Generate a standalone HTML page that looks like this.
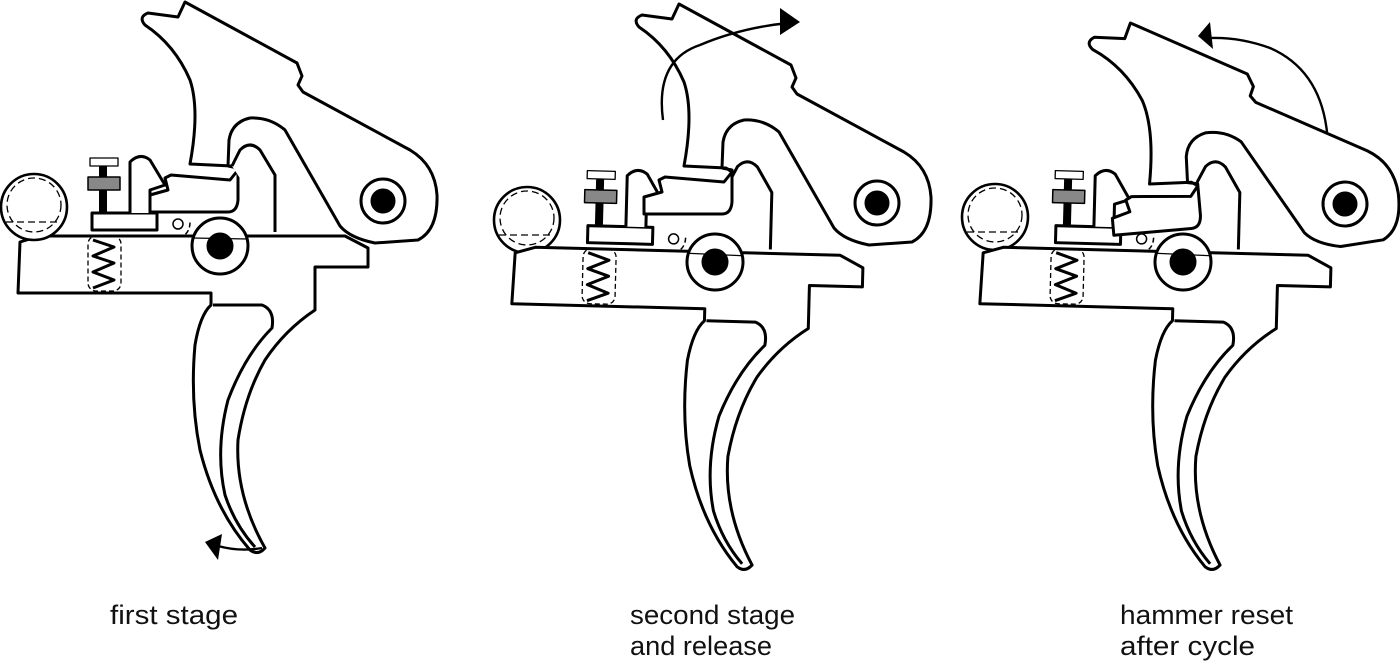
<!DOCTYPE html>
<html><head><meta charset="utf-8"><style>
html,body{margin:0;padding:0;background:#fff;width:1400px;height:664px;overflow:hidden}
svg{display:block}
text{font-family:"Liberation Sans",sans-serif;font-size:27px;fill:#111}
</style></head><body>
<svg width="1400" height="664" viewBox="0 0 1400 664" xmlns="http://www.w3.org/2000/svg">
<defs>
<g id="ham" fill="#fff" stroke="#000" stroke-width="3" stroke-linejoin="round">
  <path d="M148,13 L178,17 L185,2 L297,63 L302,76 L298,85 L303,92 L410,150 Q435,165 437,195 Q438,230 418,240 L375,243 Q350,238 340,226 L285,130 Q270,117 250,118 Q232,122 229,140 L228,166 L238,168 L238,200 Q237,212 228,212 L150,212 L150,195 L168,190 L165,178 L171,175 L230,180 L238,170 L232,166 L190,164 Q200,110 190,80 Q175,45 145,25 Q138,17 148,13 Z"/>
  <circle cx="383" cy="201" r="22"/>
  <circle cx="383" cy="201" r="11" fill="#000"/>
</g>
<g id="trig" fill="#fff" stroke="#000" stroke-width="3" stroke-linejoin="round">
  <path d="M20,242 L40,236 L345,236 L368,248 L368,267 L315,267 L315,310 Q285,330 265,360 Q245,395 238,440 Q235,495 265,548 Q258,556 250,550 Q215,510 200,450 Q190,400 195,345 Q200,315 211,305 L211,293 L18,293 Z"/>
  <path d="M213,305 L262,305 Q275,310 272,328 Q245,355 228,400 Q215,450 225,495 Q235,525 255,547" fill="none"/>
  <path d="M275,232 L275,175 L260,150 Q250,140 240,150 L232,166" fill="#fff"/>
  <circle cx="220" cy="246" r="28"/>
  <circle cx="220" cy="246" r="12" fill="#000"/>
  <line x1="192" y1="238" x2="248" y2="239" stroke-width="1.2"/>
  <rect x="92" y="213" width="65" height="17"/>
  <path d="M130,213 L130,162 Q140,152 150,160 L165,185 L150,190 L150,213" />
  <rect x="88" y="236" width="33" height="55" rx="8" fill="none" stroke-dasharray="5,3" stroke-width="1.3"/>
  <path d="M93,240 L114,247 L93,256 L114,263 L93,272 L114,280 L93,288" fill="none" stroke-width="3"/>
  <rect x="90" y="158" width="28" height="8" stroke-width="1.3"/>
  <rect x="99" y="166" width="8" height="47" fill="#000" stroke="none"/>
  <rect x="88" y="177" width="32" height="13" fill="#888" stroke="#000" stroke-width="1.5"/>
  <circle cx="178" cy="224" r="5" stroke-width="1.5"/>
  <path d="M162,236 L183,236 Q190,232 190,222" fill="none" stroke-dasharray="5,3" stroke-width="1.5"/>
</g>
<g id="ball" stroke="#000" fill="#fff">
  <circle cx="34" cy="207" r="33" stroke-width="2.6"/>
  <circle cx="34" cy="205" r="27" fill="none" stroke-dasharray="7,4" stroke-width="1.3"/>
  <line x1="6" y1="222" x2="60" y2="222" stroke-dasharray="7,4" stroke-width="1.3"/>
</g>
</defs>

<!-- figure 1 -->
<use href="#ham"/>
<use href="#trig"/>
<use href="#ball"/>
<path d="M262,548 Q240,552 218,546" fill="none" stroke="#000" stroke-width="2.4"/>
<polygon points="205,542 222,534 218,560" fill="#000"/>

<!-- figure 2 -->
<use href="#ball" transform="translate(493,13)"/>
<use href="#trig" transform="translate(495,16) rotate(1.5 220 246)"/>
<use href="#ham" transform="translate(494,2)"/>
<path d="M663,120 Q655,60 700,45 Q740,28 788,23" fill="none" stroke="#000" stroke-width="2.4"/>
<polygon points="780,8 800,22 780,35" fill="#000"/>

<!-- figure 3 -->
<use href="#ball" transform="translate(961,10)"/>
<use href="#trig" transform="translate(963,16) rotate(1.5 220 246)"/>
<use href="#ham" transform="translate(962,3) rotate(-5 383 201)"/>
<path d="M1327,132 Q1320,70 1270,48 Q1240,37 1210,38" fill="none" stroke="#000" stroke-width="2.4"/>
<polygon points="1198,36 1210,22 1213,49" fill="#000"/>

<text x="110" y="624" textLength="128" lengthAdjust="spacingAndGlyphs">first stage</text>
<text x="630" y="624" textLength="165" lengthAdjust="spacingAndGlyphs">second stage</text>
<text x="630" y="655" textLength="142" lengthAdjust="spacingAndGlyphs">and release</text>
<text x="1120" y="624" textLength="173" lengthAdjust="spacingAndGlyphs">hammer reset</text>
<text x="1120" y="655" textLength="135" lengthAdjust="spacingAndGlyphs">after cycle</text>
</svg>
</body></html>
